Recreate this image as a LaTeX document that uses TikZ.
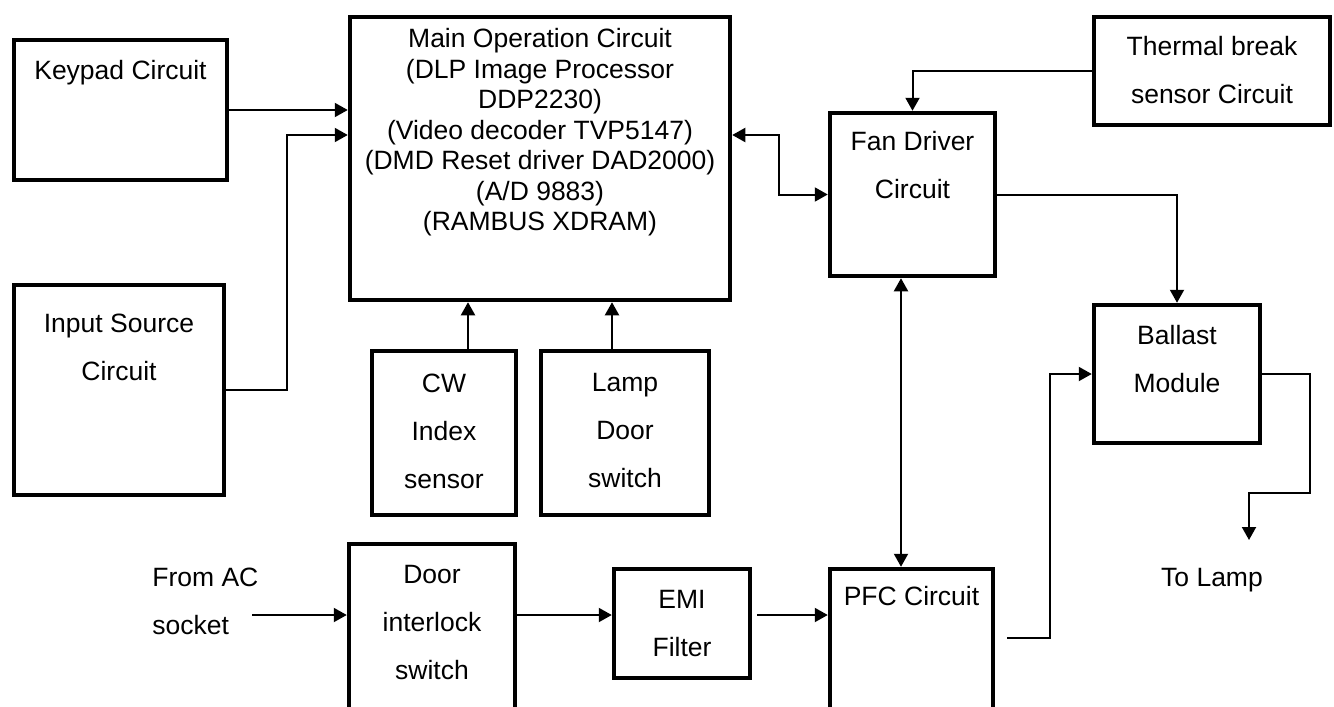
\documentclass[tikz,border=0pt]{standalone}
\usepackage{fontspec}
\setmainfont{Liberation Sans}
\usetikzlibrary{arrows.meta,positioning,calc}

\begin{document}
\begin{tikzpicture}[x=0.5pt, y=-0.5pt, every node/.style={font=\fontsize{13.25}{24}\selectfont}]
\tikzset{blk/.style={draw, line width=2.25pt, inner sep=0pt}}
\tikzset{lbl/.style={anchor=north, align=center, inner sep=0pt}}
\tikzset{arr/.style={line width=1pt, -{Triangle[length=6.5pt, width=7pt]}}}
\tikzset{arr2/.style={line width=1pt, {Triangle[length=6.5pt, width=7pt]}-{Triangle[length=6.5pt, width=7pt]}}}
\useasboundingbox (0,0) rectangle (1334,707);
\clip (0,0) rectangle (1334,707);
% left column
\node[blk, minimum width=106.5pt, minimum height=70pt, label={[lbl, yshift=-11.25pt]north:Keypad Circuit}] (keypad) at (120.5,110) {};
\node[blk, minimum width=105pt, minimum height=105pt, label={[lbl, yshift=-15.25pt]north:Input Source\\Circuit}] (input) at (119,390) {};
% main board and sensors
\node[blk, minimum width=190pt, minimum height=141.5pt, label={[lbl, yshift=-6.75pt, font=\fontsize{13.25}{15.25}\selectfont]north:Main Operation Circuit\\(DLP Image Processor\\DDP2230)\\(Video decoder TVP5147)\\(DMD Reset driver DAD2000)\\(A/D 9883)\\(RAMBUS XDRAM)}] (main) at (540,158.5) {};
\node[blk, minimum width=72pt, minimum height=82pt, label={[lbl, yshift=-12.25pt]north:CW\\Index\\sensor}] (cw) at (444,433) {};
\node[blk, minimum width=84pt, minimum height=82pt, label={[lbl, yshift=-12.25pt]north:Lamp\\Door\\switch}] (lampsw) at (625,433) {};
% fan and lamp side
\node[blk, minimum width=82.5pt, minimum height=81.5pt, label={[lbl, yshift=-10.25pt]north:Fan Driver\\Circuit}] (fan) at (912.5,194.5) {};
\node[blk, minimum width=118pt, minimum height=54pt, label={[lbl, yshift=-10.75pt]north:Thermal break\\sensor Circuit}] (thermal) at (1212,71) {};
\node[blk, minimum width=83pt, minimum height=69pt, label={[lbl, yshift=-11.25pt]north:Ballast\\Module}] (ballast) at (1177,374) {};
% power path
\node[blk, minimum width=83pt, minimum height=97pt, label={[lbl, yshift=-11.75pt]north:Door\\interlock\\switch}] (door) at (432,641) {};
\node[blk, minimum width=68pt, minimum height=54.5pt, label={[lbl, yshift=-11.75pt]north:EMI\\Filter}] (emi) at (682,623.5) {};
\node[blk, minimum width=81.5pt, minimum height=84.5pt, label={[lbl, yshift=-9.75pt]north:PFC Circuit}] (pfc) at (911.5,653.5) {};
\node[anchor=north west, align=left, inner sep=0pt] (acsrc) at (152,567.5) {From AC\\socket};
\node[anchor=north, inner sep=0pt] (tolamp) at (1212,567.5) {To Lamp};
\coordinate (acin) at (252,615);
\coordinate (lampin) at (1249,540);
% connections
\draw[arr] (keypad.east) -- (keypad.east -| main.west);
\draw[arr] (input.east) -- ++(61,0) |- ($(main.west)+(0,-23.5)$);
\draw[arr] ([xshift=12pt]cw.north) -- ([xshift=12pt]cw.north |- main.south);
\draw[arr] ([xshift=-6.5pt]lampsw.north) -- ([xshift=-6.5pt]lampsw.north |- main.south);
\draw[arr2] ($(main.east)+(0,-23.5)$) -- ++(47,0) |- (fan.west);
\draw[arr] (thermal.west) -| (fan.north);
\draw[arr] (fan.east) -| (ballast.north);
\draw[arr2] ([xshift=-5.75pt]fan.south) -- ([xshift=-5.75pt]fan.south |- pfc.north);
\draw[arr] (acin) -- (acin -| door.west);
\draw[arr] (door.east |- acin) -- (emi.west |- acin);
\draw[arr] ([xshift=2.5pt]emi.east |- acin) -- (pfc.west |- acin);
\draw[arr] ([shift={(12,-15.5)}]pfc.east) -- ++(43,0) |- (ballast.west);
\draw[arr] (ballast.east) -- ++(48,0) |- ($(lampin)+(0,-47)$) -- (lampin);
\end{tikzpicture}
\end{document}
